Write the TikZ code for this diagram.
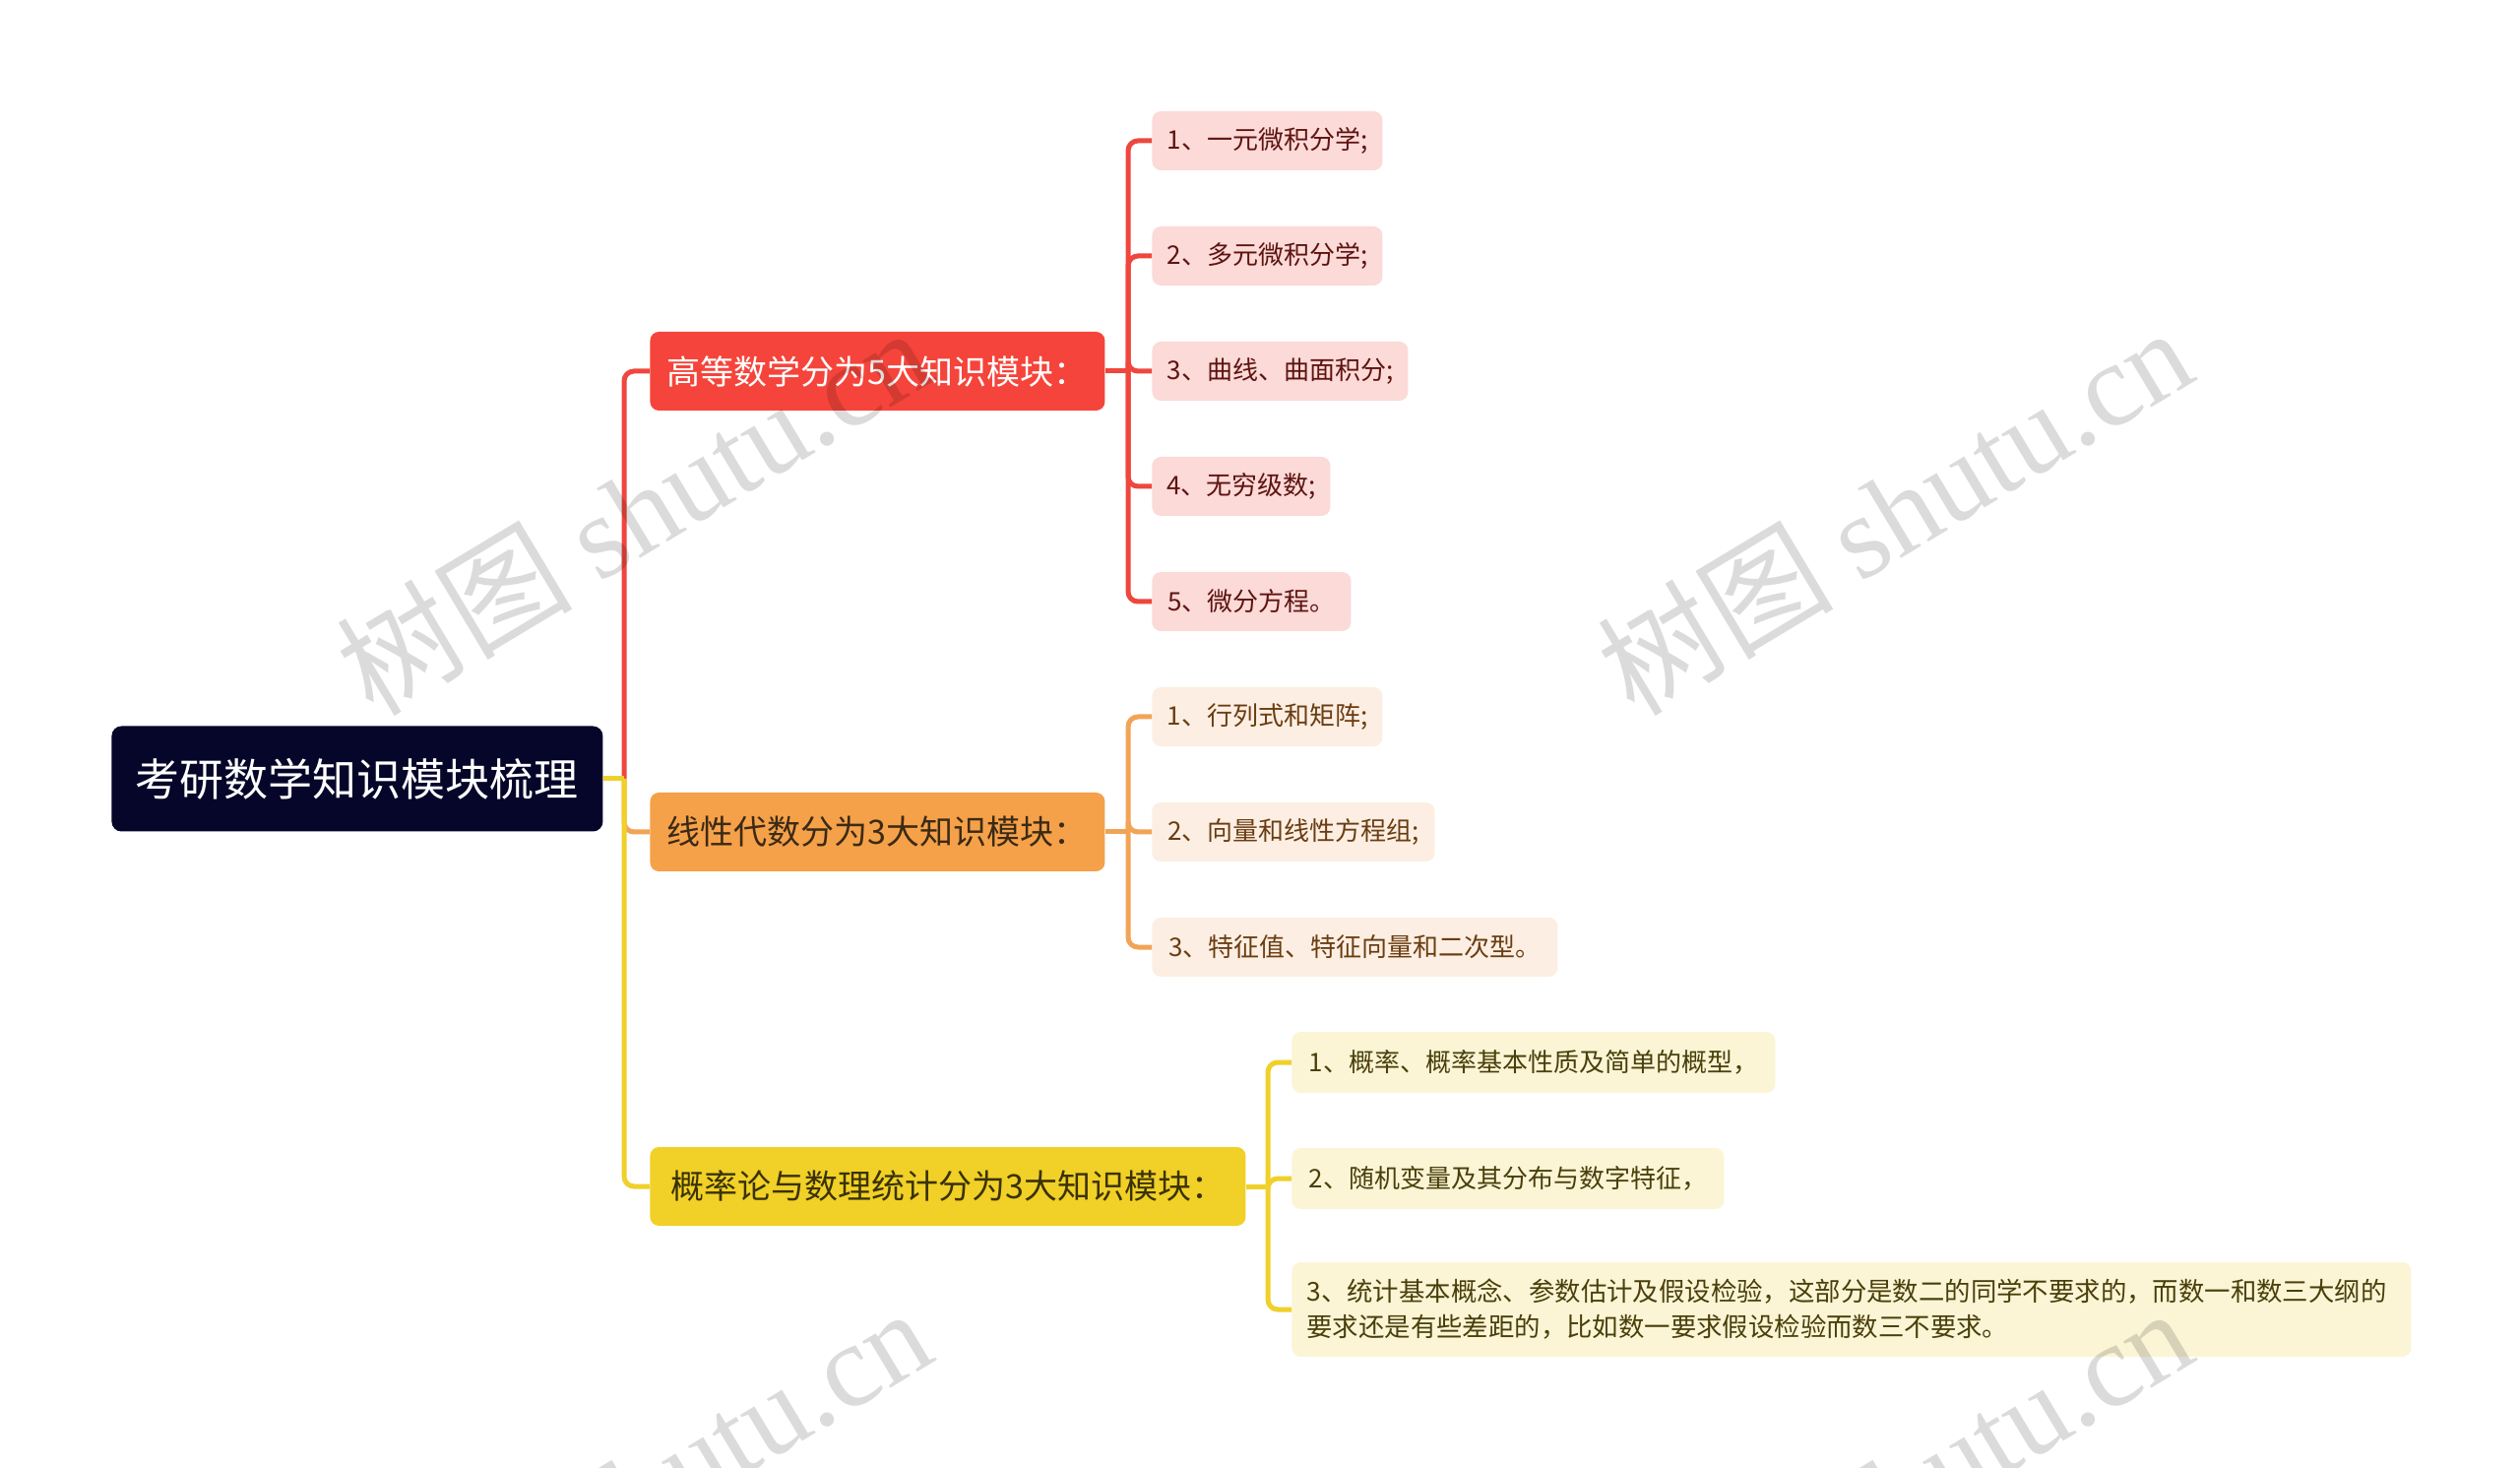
\documentclass[tikz,border=0pt]{standalone}
\usepackage{fontspec}
\newfontfamily\cjk{Noto Sans CJK SC}
\newfontfamily\wmlatin{Liberation Serif}
\definecolor{rootfill}{HTML}{06062A}
\definecolor{redmain}{HTML}{F5443B}
\definecolor{redline}{HTML}{EF463E}
\definecolor{redleaf}{HTML}{FBDAD8}
\definecolor{redtext}{HTML}{5E1410}
\definecolor{orgmain}{HTML}{F5A14A}
\definecolor{orgline}{HTML}{F2A456}
\definecolor{orgleaf}{HTML}{FCEEE2}
\definecolor{orgtext}{HTML}{6A3D12}
\definecolor{orgbtext}{HTML}{3B2A14}
\definecolor{yelmain}{HTML}{F1D027}
\definecolor{yelline}{HTML}{F0D02A}
\definecolor{yelleaf}{HTML}{FBF5D6}
\definecolor{yeltext}{HTML}{4A3F0A}
\definecolor{yelbtext}{HTML}{3A3205}
\begin{document}
\begin{tikzpicture}[x=0.5pt,y=-0.5pt,
  rootbox/.style={fill=rootfill, rounded corners=5pt, text=white, inner sep=0pt,
    font=\cjk\fontsize{22.5pt}{27pt}\selectfont, minimum width=249.5pt, minimum height=53.5pt, anchor=west},
  branchbox/.style={rounded corners=4.5pt, inner sep=0pt, anchor=west, minimum height=40pt,
    font=\cjk\fontsize{17pt}{21pt}\selectfont},
  leafbox/.style={rounded corners=4.5pt, inner sep=0pt, anchor=west, minimum height=30pt,
    font=\cjk\fontsize{13pt}{18pt}\selectfont},
  rleaf/.style={leafbox, fill=redleaf, text=redtext},
  oleaf/.style={leafbox, fill=orgleaf, text=orgtext},
  yleaf/.style={leafbox, fill=yelleaf, text=yeltext},
  conn/.style={line width=2.5pt, rounded corners=5pt},
  rconn/.style={conn, draw=redline},
  oconn/.style={conn, draw=orgline},
  yconn/.style={conn, draw=yelline},
  wm/.style={rotate=31, text=black, opacity=0.14, inner sep=0pt}
]
\useasboundingbox (0,0) rectangle (2560,1491);
\fill[white] (0,0) rectangle (2560,1491);

% nodes
\node[rootbox] (root) at (113,791) {考研数学知识模块梳理};

\node[branchbox, fill=redmain, text=white, minimum width=231pt] (b1) at (660,377) {高等数学分为5大知识模块：};
\node[branchbox, fill=orgmain, text=orgbtext, minimum width=231pt] (b2) at (660,845) {线性代数分为3大知识模块：};
\node[branchbox, fill=yelmain, text=yelbtext, minimum width=302.5pt] (b3) at (660,1205) {概率论与数理统计分为3大知识模块：};

\node[rleaf, minimum width=117pt] (r1) at (1170,143) {1、一元微积分学;};
\node[rleaf, minimum width=117pt] (r2) at (1170,260) {2、多元微积分学;};
\node[rleaf, minimum width=130pt] (r3) at (1170,377) {3、曲线、曲面积分;};
\node[rleaf, minimum width=90.5pt] (r4) at (1170,494) {4、无穷级数;};
\node[rleaf, minimum width=101pt] (r5) at (1170,611) {5、微分方程。};

\node[oleaf, minimum width=117pt] (o1) at (1170,728) {1、行列式和矩阵;};
\node[oleaf, minimum width=143.5pt] (o2) at (1170,845) {2、向量和线性方程组;};
\node[oleaf, minimum width=206pt] (o3) at (1170,962) {3、特征值、特征向量和二次型。};

\node[yleaf, minimum width=245.5pt, minimum height=31pt] (y1) at (1312,1079) {1、概率、概率基本性质及简单的概型，};
\node[yleaf, minimum width=219.5pt, minimum height=31pt] (y2) at (1312,1197) {2、随机变量及其分布与数字特征，};
\node[yleaf, minimum height=48pt, inner xsep=7.5pt, text width=553.5pt, align=left,
  font=\cjk\fontsize{13.2pt}{18pt}\selectfont] (y3) at (1312,1330)
  {3、统计基本概念、参数估计及假设检验，这部分是数二的同学不要求的，而数一和数三大纲的\\要求还是有些差距的，比如数一要求假设检验而数三不要求。};

% junction coordinates
\coordinate (J0) at (634,791);
\coordinate (JR) at (1146,377);
\coordinate (JO) at (1146,845);
\coordinate (JY) at (1288,1205);

% root to branches
\draw[rconn] (J0) |- (b1.west);
\draw[oconn] (J0) |- (b2.west);
\draw[yconn] (J0) |- (b3.west);
\draw[yconn] (root.east) -- (J0);

% branch 1 to leaves
\draw[rconn] (b1.east) -- (JR);
\foreach \n in {r1,r2,r3,r4,r5} { \draw[rconn] (JR) |- (\n.west); }
% branch 2 to leaves
\draw[oconn] (b2.east) -- (JO);
\foreach \n in {o1,o2,o3} { \draw[oconn] (JO) |- (\n.west); }
% branch 3 to leaves
\draw[yconn] (b3.east) -- (JY);
\foreach \n in {y1,y2,y3} { \draw[yconn] (JY) |- (\n.west); }

% watermarks
\begin{scope}
\clip (0,0) rectangle (2560,1491);
\node[wm] (w1) at (643,518) {\cjk\fontsize{60pt}{60pt}\selectfont 树图 \wmlatin shutu.cn};
\node[wm] (w2) at (1924,518) {\cjk\fontsize{60pt}{60pt}\selectfont 树图 \wmlatin shutu.cn};
\node[wm] (w3) at (643,1514) {\cjk\fontsize{60pt}{60pt}\selectfont 树图 \wmlatin shutu.cn};
\node[wm] (w4) at (1924,1514) {\cjk\fontsize{60pt}{60pt}\selectfont 树图 \wmlatin shutu.cn};
\end{scope}
\end{tikzpicture}
\end{document}
